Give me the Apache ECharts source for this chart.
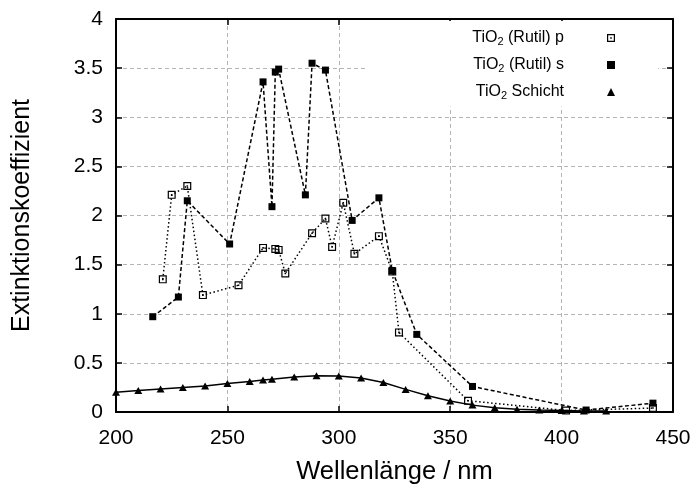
<!DOCTYPE html>
<html>
<head>
<meta charset="utf-8">
<script src="https://cdn.jsdelivr.net/npm/echarts@6/dist/echarts.min.js"></script>
<style>
  html, body { margin: 0; padding: 0; background: #fff; }
  #chart { width: 694px; height: 486px; }
</style>
</head>
<body>
<div id="chart"></div>
<script>
// Extinction coefficient of TiO2 (rutile, p and s polarisation) and a TiO2 layer
const pWave = [221, 225, 232, 239, 255, 266, 271.5, 273, 276, 288, 294, 297, 302, 307, 318, 324, 327, 358, 402, 441];
const pExt  = [1.35, 2.21, 2.30, 1.19, 1.29, 1.67, 1.66, 1.65, 1.41, 1.82, 1.97, 1.68, 2.13, 1.61, 1.79, 1.43, 0.81, 0.115, 0.015, 0.04];

const sWave = [216.5, 228, 232, 251, 266, 270, 271.5, 273, 285, 288, 294, 306, 318, 324, 335, 360, 411, 441];
const sExt  = [0.97, 1.17, 2.15, 1.71, 3.36, 2.09, 3.46, 3.49, 2.21, 3.55, 3.48, 1.95, 2.18, 1.44, 0.79, 0.26, 0.02, 0.09];

const layerWave = [200, 210, 220, 230, 240, 250, 260, 266, 270, 280, 290, 300, 310, 320, 330, 340, 350, 360, 370, 380, 390, 400, 410, 420];
const layerExt  = [0.20, 0.22, 0.235, 0.25, 0.265, 0.29, 0.31, 0.325, 0.333, 0.357, 0.37, 0.367, 0.347, 0.30, 0.23, 0.165, 0.112, 0.07, 0.044, 0.027, 0.02, 0.015, 0.01, 0.01];

const seriesNames = ['TiO2 (Rutil) p', 'TiO2 (Rutil) s', 'TiO2 Schicht'];
const legendRich = {
  'TiO2 (Rutil) p': '{n|TiO}{sub|2}{n| (Rutil) p}{g|}',
  'TiO2 (Rutil) s': '{n|TiO}{sub|2}{n| (Rutil) s}{g|}',
  'TiO2 Schicht':   '{n|TiO}{sub|2}{n| Schicht}{g|}'
};

const xMin = 200, xMax = 450, xStep = 50;
const yMin = 0, yMax = 4, yStep = 0.5;

const FONT = '"Liberation Sans", Arial, Helvetica, sans-serif';
// open square with a centre dot
const openSquareDot = 'path://M0,0H20V20H0Z M3,3V17H17V3Z M8,8H12V12H8Z';

function pairs(xs, ys) { return xs.map((x, i) => [x, ys[i]]); }

const frameLine = { show: true, onZero: false, lineStyle: { color: '#000', width: 2 } };
const frameTick = { show: true, inside: true, length: 6, lineStyle: { color: '#000', width: 1.5 } };
const gridDash = { show: true, lineStyle: { color: '#b4b4b4', width: 1, type: [4, 3] } };

const chart = echarts.init(document.getElementById('chart'), null, { renderer: 'canvas' });

chart.setOption({
  animation: false,
  backgroundColor: '#fff',
  textStyle: { fontFamily: FONT },
  grid: { left: 116, right: 21, top: 19, bottom: 74, containLabel: false, outerBoundsMode: 'none' },
  xAxis: [
    {
      type: 'value', position: 'bottom', min: xMin, max: xMax, interval: xStep,
      axisLine: frameLine, axisTick: frameTick,
      axisLabel: { color: '#000', fontSize: 21, fontFamily: FONT, margin: 16 },
      splitLine: gridDash,
      name: 'Wellenlänge / nm', nameLocation: 'middle', nameGap: 47,
      nameTextStyle: { color: '#000', fontSize: 25.5, fontFamily: FONT }
    },
    {
      type: 'value', position: 'top', min: xMin, max: xMax, interval: xStep,
      axisLine: frameLine, axisTick: frameTick,
      axisLabel: { show: false }, splitLine: { show: false }
    }
  ],
  yAxis: [
    {
      type: 'value', position: 'left', min: yMin, max: yMax, interval: yStep,
      axisLine: frameLine, axisTick: frameTick,
      axisLabel: { color: '#000', fontSize: 21, fontFamily: FONT, margin: 13 },
      splitLine: gridDash,
      name: 'Extinktionskoeffizient', nameLocation: 'middle', nameGap: 81, nameRotate: 90,
      nameTextStyle: { color: '#000', fontSize: 25, fontFamily: FONT }
    },
    {
      type: 'value', position: 'right', min: yMin, max: yMax, interval: yStep,
      axisLine: frameLine, axisTick: frameTick,
      axisLabel: { show: false }, splitLine: { show: false }
    }
  ],
  legend: {
    orient: 'vertical',
    align: 'right',
    right: 36,
    top: 21,
    padding: [9, 43, 5, 105],
    itemGap: 9.5,
    itemWidth: 8,
    itemHeight: 8,
    selectedMode: false,
    backgroundColor: '#fff',
    data: [
      { name: seriesNames[0], icon: openSquareDot },
      { name: seriesNames[1], icon: 'rect' },
      { name: seriesNames[2], icon: 'triangle' }
    ],
    formatter: name => legendRich[name],
    textStyle: {
      color: '#000', fontFamily: FONT, fontSize: 16,
      rich: {
        n: { fontFamily: FONT, fontSize: 16, color: '#000' },
        sub: { fontFamily: FONT, fontSize: 11, color: '#000', padding: [8, 0, 0, 0] },
        g: { width: 38 }
      }
    }
  },
  series: [
    {
      name: seriesNames[0], type: 'line', xAxisIndex: 0, yAxisIndex: 0,
      data: pairs(pWave, pExt),
      symbol: openSquareDot, symbolSize: 8,
      itemStyle: { color: '#000' },
      lineStyle: { color: '#000', width: 1.5, type: [1.5, 2.5] },
      z: 3
    },
    {
      name: seriesNames[1], type: 'line', xAxisIndex: 0, yAxisIndex: 0,
      data: pairs(sWave, sExt),
      symbol: 'rect', symbolSize: 7,
      itemStyle: { color: '#000' },
      lineStyle: { color: '#000', width: 1.5, type: [4, 2.5] },
      z: 4
    },
    {
      name: seriesNames[2], type: 'line', xAxisIndex: 0, yAxisIndex: 0,
      data: pairs(layerWave, layerExt),
      symbol: 'triangle', symbolSize: [8, 7],
      itemStyle: { color: '#000' },
      lineStyle: { color: '#000', width: 1.5 },
      z: 5
    }
  ]
});
</script>
</body>
</html>
